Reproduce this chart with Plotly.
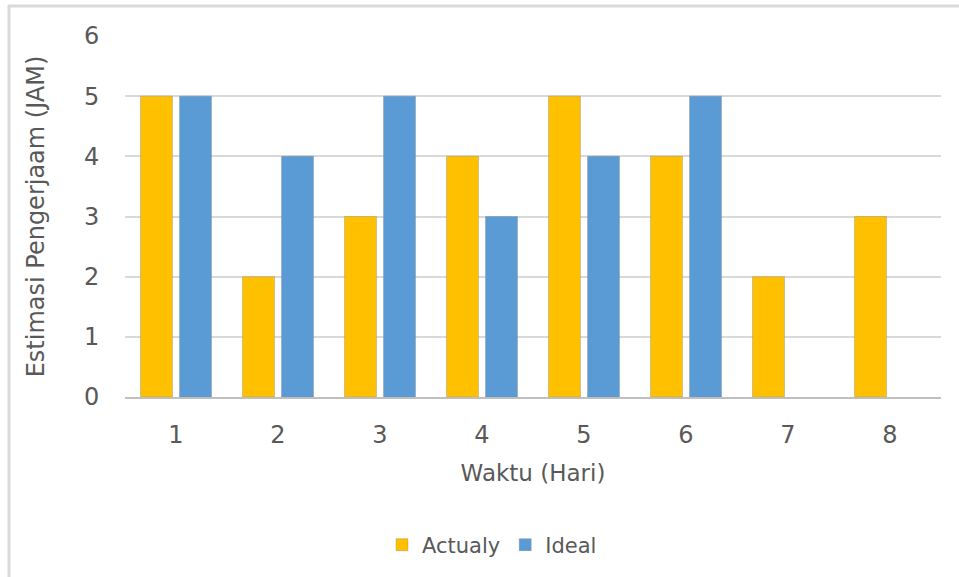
import plotly.graph_objects as go

categories = ["1", "2", "3", "4", "5", "6", "7", "8"]
actualy = [5, 2, 3, 4, 5, 4, 2, 3]
ideal = [5, 4, 5, 3, 4, 5, None, None]
y_ticks = [0, 1, 2, 3, 4, 5, 6]

W, H = 959, 577
L, R, T, B = 125, 18, 36, 180
pw, ph = W - L - R, H - T - B

def px_x(p):
    return (p - L) / pw

def px_y(p):
    return (H - B - p) / ph

font = "DejaVu Sans"
txt = "#595959"

fig = go.Figure()
fig.add_trace(go.Bar(x=categories, y=actualy, name="Actualy",
                     marker=dict(color="#FFC000", line=dict(color="rgba(120,120,120,0.3)", width=1))))
fig.add_trace(go.Bar(x=categories, y=ideal, name="Ideal",
                     marker=dict(color="#5B9BD5", line=dict(color="rgba(120,120,120,0.3)", width=1))))

fig.update_layout(
    width=W, height=H,
    margin=dict(l=L, r=R, t=T, b=B),
    paper_bgcolor="white", plot_bgcolor="white",
    barmode="group", bargap=0.235, bargroupgap=0.18,
    font=dict(family=font, color=txt),
    xaxis=dict(
        title=dict(text="Waktu (Hari)", font=dict(size=23, color=txt), standoff=17),
        tickfont=dict(size=24, color=txt),
        showline=True, linecolor="#BFBFBF", linewidth=2,
        ticks="outside", ticklen=15, tickcolor="rgba(0,0,0,0)",
        showgrid=False,
    ),
    yaxis=dict(
        title=dict(text="Estimasi Pengerjaam (JAM)", font=dict(size=24, color=txt), standoff=32),
        tickfont=dict(size=24, color=txt),
        range=[0, 6], tickvals=y_ticks,
        showgrid=True, gridcolor="#D9D9D9", gridwidth=2,
        zeroline=False,
        ticks="outside", ticklen=20, tickcolor="rgba(0,0,0,0)",
    ),
    legend=dict(orientation="h", x=px_x(492), xanchor="center",
                y=px_y(545), yanchor="middle",
                font=dict(size=21, color=txt), itemwidth=30,
                traceorder="normal"),
    shapes=[
        dict(type="line", xref="paper", yref="paper",
             x0=px_x(8), x1=px_x(965), y0=px_y(6), y1=px_y(6),
             line=dict(color="#D9D9D9", width=3)),
        dict(type="line", xref="paper", yref="paper",
             x0=px_x(9), x1=px_x(9), y0=px_y(5), y1=px_y(580),
             line=dict(color="#D9D9D9", width=3)),
    ],
)

fig.write_html("out.html")
